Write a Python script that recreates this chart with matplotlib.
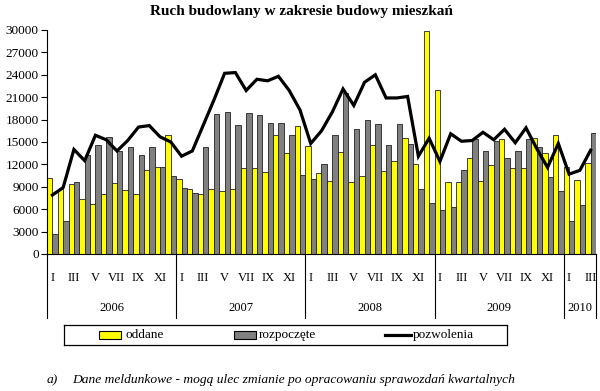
import matplotlib
matplotlib.use("Agg")
import matplotlib.pyplot as plt
import numpy as np
from matplotlib.patches import Rectangle

plt.rcParams['font.family'] = ['Liberation Serif', 'DejaVu Serif']

years = ['2006', '2007', '2008', '2009', '2010']
months_in_year = [12, 12, 12, 12, 3]
month_labels = ['I', 'III', 'V', 'VII', 'IX', 'XI']

# oddane (yellow bars)
oddane = [10200, 8700, 9400, 7300, 6700, 8100, 9500, 8600, 8100, 11300, 11600, 16000,
          10100, 8700, 8000, 8700, 8400, 8700, 11500, 11500, 11000, 16000, 13500, 17100,
          14500, 10900, 9800, 13600, 9600, 10400, 14600, 11100, 12400, 15600, 12000, 29900,
          22000, 9700, 9700, 12800, 9800, 11900, 15400, 11500, 11500, 15500, 13500, 16000,
          11600, 9900, 12200]
# rozpoczete (gray bars)
rozpoczete = [2700, 4400, 9700, 13300, 14600, 15700, 13800, 14300, 13300, 14300, 11600, 10500,
              8900, 8200, 14300, 18700, 19000, 17300, 18900, 18600, 17500, 17500, 15900, 10600,
              10100, 12100, 15900, 21600, 16800, 18000, 17400, 14600, 17400, 14700, 8700, 6800,
              5900, 6300, 11300, 15400, 13800, 15200, 12800, 13800, 15400, 14300, 10300, 8400,
              4400, 6500, 16200]
# pozwolenia (line)
pozwolenia = [7900, 8900, 14000, 12500, 15900, 15300, 13800, 15200, 17000, 17200, 15700, 15000,
              13100, 13800, 17200, 20600, 24200, 24300, 21900, 23400, 23200, 23800, 21900, 19300,
              14800, 16500, 19000, 22100, 19900, 23000, 24000, 20900, 20900, 21100, 13100, 15500,
              12400, 16100, 15100, 15200, 16300, 15300, 16700, 14900, 16900, 14100, 11600, 14800,
              10700, 11200, 13900]

YELLOW = '#ffff00'
GRAY = '#808080'

fig = plt.figure(figsize=(6, 3.91), dpi=100)
ax = fig.add_axes([47 / 600, 1 - 254 / 391, 549 / 600, 224 / 391])

x = np.arange(len(oddane))
ax.bar(x - 0.25, oddane, width=0.5, color=YELLOW, edgecolor='#222222', linewidth=0.6)
ax.bar(x + 0.25, rozpoczete, width=0.5, color=GRAY, edgecolor='#222222', linewidth=0.6)
ax.plot(x, pozwolenia, color='black', linewidth=2.3, solid_joinstyle='miter')

ax.set_xlim(-0.5, len(oddane) - 0.5)
ax.set_ylim(0, 30000)
ax.set_yticks(np.arange(0, 30001, 3000))
ax.tick_params(axis='y', direction='out', length=4, width=0.8, pad=2, labelsize=9.5)
ax.set_xticks([])
for s in ['top', 'right']:
    ax.spines[s].set_visible(False)
ax.spines['left'].set_linewidth(0.8)
ax.spines['bottom'].set_linewidth(0.8)

# month / year labels and separators under the axis
trans = ax.get_xaxis_transform()
start = 0
bounds = [-0.5]
for yr, n in zip(years, months_in_year):
    for k in range(0, n, 2):
        ax.text(start + k, -0.106, month_labels[k // 2], transform=trans,
                ha='center', va='center', fontsize=9)
    ax.text(start + (n - 1) / 2, -0.241, yr, transform=trans,
            ha='center', va='center', fontsize=9)
    start += n
    bounds.append(start - 0.5)
for b in bounds:
    ax.plot([b, b], [0, -0.286], transform=trans, color='black', lw=0.8, clip_on=False)

fig.text(301 / 600, 1 - 12 / 391, 'Ruch budowlany w zakresie budowy mieszkań',
         ha='center', va='center', fontsize=11, fontweight='bold')

# legend box
lg = fig.add_axes([64 / 600, 1 - 345 / 391, 443 / 600, 20 / 391])
lg.set_xlim(0, 443)
lg.set_ylim(0, 20)
lg.set_xticks([])
lg.set_yticks([])
for s in lg.spines.values():
    s.set_linewidth(0.9)
lg.add_patch(Rectangle((35, 6), 22, 8, facecolor=YELLOW, edgecolor='black', lw=0.8))
lg.text(61, 10, 'oddane', va='center', ha='left', fontsize=9.5)
lg.add_patch(Rectangle((170, 6), 22, 8, facecolor=GRAY, edgecolor='black', lw=0.8))
lg.text(195, 10, 'rozpoczęte', va='center', ha='left', fontsize=9.5)
lg.plot([321, 347], [10, 10], color='black', lw=2.3)
lg.text(349, 10, 'pozwolenia', va='center', ha='left', fontsize=9.5)

fig.text(47 / 600, 1 - 380 / 391, 'a)', ha='left', va='center', fontsize=9.7, style='italic')
fig.text(72 / 600, 1 - 380 / 391,
         'Dane meldunkowe - mogą ulec zmianie po opracowaniu sprawozdań kwartalnych',
         ha='left', va='center', fontsize=9.7, style='italic')

fig.savefig('out.png', dpi=100)
